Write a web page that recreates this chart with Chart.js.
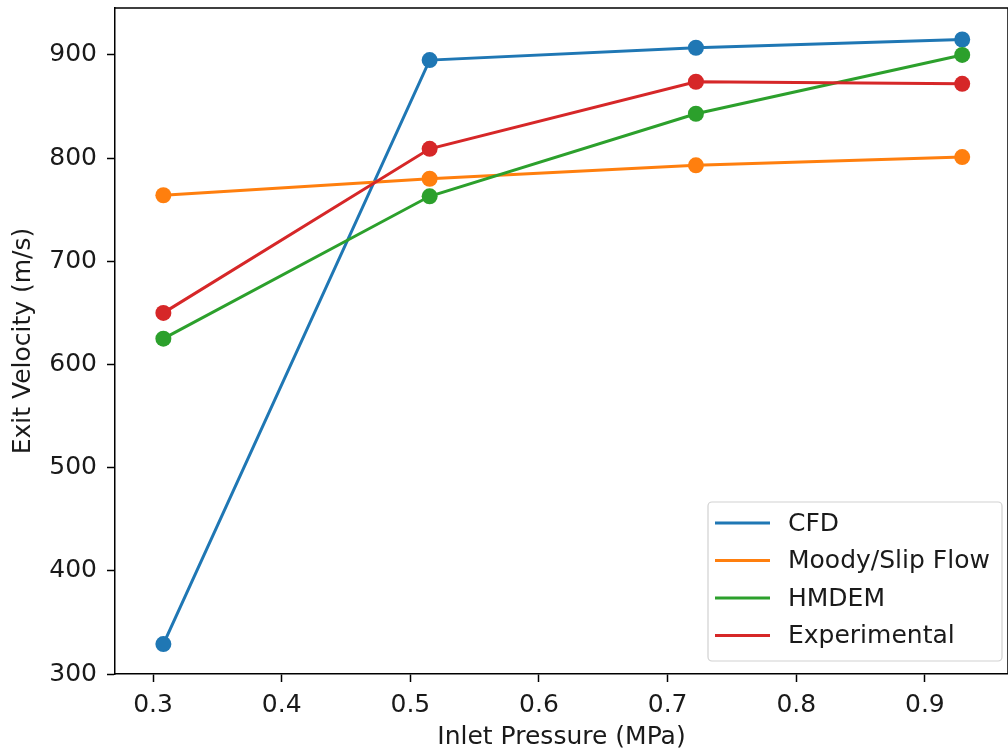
<!DOCTYPE html>
<html>
<head>
<meta charset="utf-8">
<script src="https://cdn.jsdelivr.net/npm/chart.js@4/dist/chart.umd.min.js"></script>
<style>
  html, body { margin: 0; padding: 0; background: #fff; overflow: hidden; }
  #wrap { position: relative; width: 1016px; height: 752px; }
</style>
</head>
<body>
<div id="wrap"><canvas id="velocityChart"></canvas></div>
<script>
// DATA
const pressure = [0.308, 0.515, 0.722, 0.929];
const cfd = [329, 895, 907, 915];
const moody = [764, 780, 793, 801];
const hmdem = [625, 763, 843, 900];
const experimental = [650, 809, 874, 872];
const seriesNames = ['CFD', 'Moody/Slip Flow', 'HMDEM', 'Experimental'];
const seriesColors = ['#1f77b4', '#ff7f0e', '#2ca02c', '#d62728'];
const yTicks = [300, 400, 500, 600, 700, 800, 900];

const FONT = { family: '"DejaVu Sans", sans-serif', size: 25 };
const TEXT = '#1a1a1a';

function toPoints(vals) {
  return vals.map((v, i) => ({ x: pressure[i], y: v }));
}

const allSeries = [cfd, moody, hmdem, experimental];
const datasets = allSeries.map((vals, i) => ({
  label: seriesNames[i],
  data: toPoints(vals),
  borderColor: seriesColors[i],
  backgroundColor: seriesColors[i],
  borderWidth: 3,
  pointRadius: 8,
  pointBorderWidth: 0,
  pointHoverRadius: 8,
  tension: 0,
  order: allSeries.length - i
}));

// top / right spines like matplotlib
const spines = {
  id: 'spines',
  afterDraw(chart) {
    const { ctx, chartArea: a } = chart;
    ctx.save();
    ctx.strokeStyle = '#000';
    ctx.lineWidth = 1.5;
    ctx.beginPath();
    ctx.moveTo(a.left, a.top);
    ctx.lineTo(a.right, a.top);
    ctx.lineTo(a.right, a.bottom);
    ctx.stroke();
    ctx.restore();
  }
};

// legend in the lower right corner of the axes
const cornerLegend = {
  id: 'cornerLegend',
  afterDraw(chart) {
    const { ctx } = chart;
    const boxX = 708, boxY = 502, boxW = 294, boxH = 159, rowH = 37.5;
    ctx.save();
    ctx.fillStyle = 'rgba(255,255,255,0.8)';
    ctx.strokeStyle = 'rgba(204,204,204,0.9)';
    ctx.lineWidth = 1.2;
    ctx.beginPath();
    ctx.roundRect(boxX, boxY, boxW, boxH, 4);
    ctx.fill();
    ctx.stroke();
    ctx.font = FONT.size + 'px ' + FONT.family;
    ctx.textBaseline = 'middle';
    chart.data.datasets.forEach((ds, i) => {
      const cy = boxY + 21 + i * rowH;
      ctx.strokeStyle = ds.borderColor;
      ctx.lineWidth = 3;
      ctx.beginPath();
      ctx.moveTo(715, cy);
      ctx.lineTo(770, cy);
      ctx.stroke();
      ctx.fillStyle = TEXT;
      ctx.fillText(ds.label, 788, cy + 1);
    });
    ctx.restore();
  }
};

new Chart(document.getElementById('velocityChart'), {
  type: 'line',
  data: { datasets },
  options: {
    responsive: true,
    maintainAspectRatio: false,
    animation: false,
    layout: { padding: { top: 7, right: 4, left: 0, bottom: 0 } },
    plugins: {
      legend: { display: false },
      tooltip: { enabled: false }
    },
    scales: {
      x: {
        type: 'linear',
        min: 0.2704,
        max: 0.9646,
        afterFit(scale) { scale.height = 78; scale.paddingLeft = 0; scale.paddingRight = 0; },
        ticks: {
          stepSize: 0.1,
          includeBounds: false,
          padding: 8,
          color: TEXT,
          font: FONT,
          maxRotation: 0,
          callback: v => v.toFixed(1)
        },
        grid: { drawOnChartArea: false, tickLength: 8, tickColor: '#000', tickWidth: 1.5 },
        border: { display: true, color: '#000', width: 1.5 },
        title: { display: true, text: 'Inlet Pressure (MPa)', color: TEXT, font: FONT, padding: { top: 0, bottom: 0 } }
      },
      y: {
        type: 'linear',
        min: 300,
        max: 945.5,
        afterFit(scale) { scale.width = 115; scale.paddingTop = 0; scale.paddingBottom = 0; },
        afterBuildTicks(scale) { scale.ticks = yTicks.map(v => ({ value: v })); },
        ticks: {
          padding: 10,
          color: TEXT,
          font: FONT
        },
        grid: { drawOnChartArea: false, tickLength: 8, tickColor: '#000', tickWidth: 1.5 },
        border: { display: true, color: '#000', width: 1.5 },
        title: { display: true, text: 'Exit Velocity (m/s)', color: TEXT, font: FONT, padding: { top: 8, bottom: 8 } }
      }
    }
  },
  plugins: [spines, cornerLegend]
});
</script>
</body>
</html>
